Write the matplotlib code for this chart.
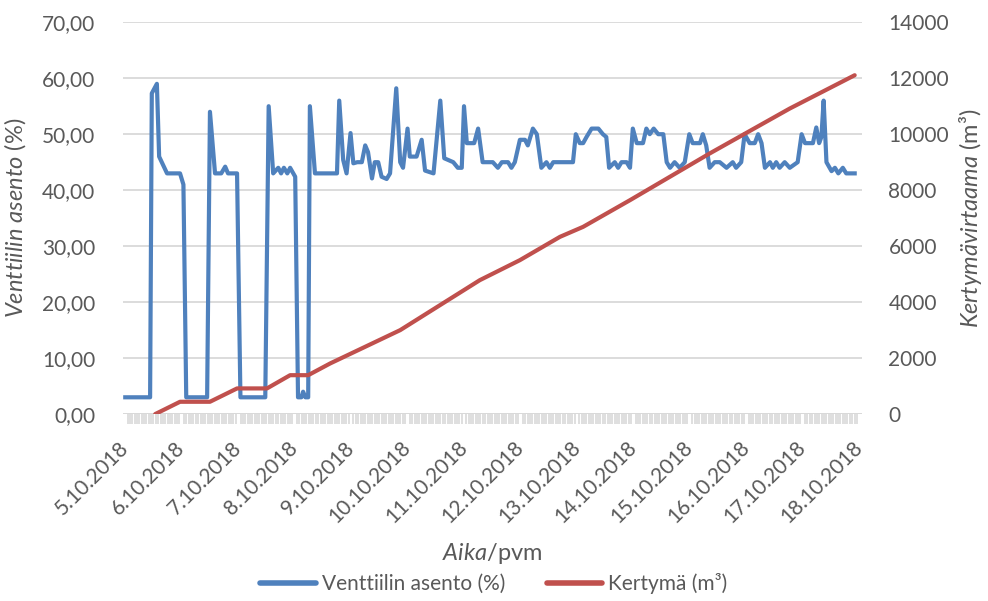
import matplotlib
matplotlib.use("Agg")
import matplotlib.pyplot as plt
from matplotlib.lines import Line2D

# x positions are days counted from 5.10.2018 00:00
date_labels = ["5.10.2018", "6.10.2018", "7.10.2018", "8.10.2018", "9.10.2018",
               "10.10.2018", "11.10.2018", "12.10.2018", "13.10.2018", "14.10.2018",
               "15.10.2018", "16.10.2018", "17.10.2018", "18.10.2018"]

valve_days = [0.00, 0.44, 0.47, 0.56, 0.60, 0.74, 0.97, 1.03, 1.08, 1.45,
              1.50, 1.59, 1.70, 1.77, 1.82, 1.98, 2.04, 2.48, 2.54, 2.62,
              2.71, 2.76, 2.81, 2.87, 2.92, 3.01, 3.06, 3.12, 3.15, 3.19,
              3.24, 3.27, 3.36, 3.75, 3.79, 3.86, 3.92, 3.99, 4.04, 4.11,
              4.19, 4.25, 4.30, 4.37, 4.42, 4.48, 4.54, 4.63, 4.69, 4.80,
              4.87, 4.92, 5.00, 5.04, 5.16, 5.25, 5.31, 5.46, 5.58, 5.65,
              5.81, 5.89, 5.96, 6.00, 6.05, 6.18, 6.25, 6.33, 6.51, 6.60,
              6.67, 6.78, 6.84, 6.90, 6.99, 7.08, 7.13, 7.22, 7.29, 7.37,
              7.46, 7.52, 7.58, 7.70, 7.93, 7.98, 8.05, 8.11, 8.17, 8.26,
              8.38, 8.46, 8.52, 8.57, 8.67, 8.73, 8.79, 8.88, 8.94, 8.99,
              9.06, 9.17, 9.23, 9.29, 9.36, 9.44, 9.53, 9.59, 9.65, 9.73,
              9.82, 9.91, 9.99, 10.05, 10.18, 10.23, 10.29, 10.35, 10.44, 10.53,
              10.65, 10.76, 10.82, 10.91, 10.97, 11.06, 11.15, 11.21, 11.27, 11.33,
              11.42, 11.47, 11.53, 11.59, 11.68, 11.77, 11.91, 11.98, 12.04, 12.18,
              12.24, 12.29, 12.33, 12.37, 12.42, 12.51, 12.57, 12.63, 12.71, 12.77,
              12.92]
valve_pos = [3, 3, 57.3, 59, 46, 43, 43, 41, 3, 3,
             54, 43, 43, 44.2, 43, 43, 3, 3, 55, 43,
             44, 43, 44, 43, 44, 42.4, 3, 3, 4, 3,
             3, 55, 43, 43, 56, 45.4, 43, 50.2, 44.8, 45,
             45, 48, 46.8, 42.1, 45, 45, 42.4, 42, 43, 58.2,
             45, 44, 51, 46, 46, 49, 43.5, 43, 56, 45.7,
             45, 44, 44, 55, 48.4, 48.4, 51, 45, 45, 44,
             45, 45, 44, 45, 49, 49, 48, 51, 50, 44,
             45, 44, 45, 45, 45, 50, 48.4, 48.4, 49.5, 51,
             51, 50, 49.5, 44, 45, 44, 45, 45, 44, 51,
             48.4, 48.4, 51, 50, 51, 50, 50, 45, 44, 45,
             44, 45, 50, 48.4, 48.4, 50, 48, 44, 45, 45,
             44, 45, 44, 45, 50, 48.4, 48.4, 50, 48.4, 44,
             45, 44, 45, 44, 45, 44, 45, 50, 48.4, 48.4,
             51.2, 48.4, 49.5, 56, 45, 43.4, 44, 43, 44, 43,
             43]

flow_days = [0.53, 0.97, 1.50, 1.98, 2.51, 2.92, 3.24, 3.63, 4.87, 6.28,
             6.99, 7.70, 8.11, 8.94, 10.35, 11.77, 12.92]
flow_sum = [0, 440, 440, 917, 917, 1390, 1390, 1810, 3000, 4785,
            5500, 6333, 6690, 7643, 9310, 10917, 12107]

BLUE = "#4F81BD"
RED = "#C0504D"
TEXT = "#595959"
GRID = "#D9D9D9"


def main():
    plt.rcParams['font.family'] = ['Lato', 'DejaVu Sans']
    plt.rcParams['mathtext.fontset'] = 'custom'
    plt.rcParams['mathtext.rm'] = 'Lato'
    plt.rcParams['mathtext.it'] = 'Lato:italic'

    fig = plt.figure(figsize=(9.88, 6.01), dpi=100)
    ax = fig.add_axes([0.1245, 0.311, 0.748, 0.652])
    ax2 = ax.twinx()

    # left axis: valve position
    ax.plot(valve_days, valve_pos, color=BLUE, lw=3, solid_joinstyle='round', zorder=3)
    ax.set_ylim(0, 70)
    ax.set_yticks(range(0, 71, 10))
    ax.set_yticklabels([f"{v},00" for v in range(0, 71, 10)])
    ax.grid(axis='y', color=GRID, lw=1.3)
    ax.set_axisbelow(True)

    # right axis: cumulative flow
    ax2.plot(flow_days, flow_sum, color=RED, lw=3, solid_capstyle='round', zorder=3)
    ax2.set_ylim(0, 14000)
    ax2.set_yticks(range(0, 14001, 2000))

    ax.set_xlim(-0.04, 13.05)
    ax.set_xticks(range(len(date_labels)))
    ax.set_xticklabels(date_labels, rotation=45, ha='right', va='center',
                       rotation_mode='anchor')
    ax.set_xticks([i / 24 for i in range(0, 13 * 24 + 1)], minor=True)
    ax.tick_params(axis='x', which='major', length=0, pad=22, labelsize=15, colors=TEXT)
    ax.tick_params(axis='x', which='minor', length=7, width=1.2, color=GRID)
    ax.tick_params(axis='y', length=0, pad=20, labelsize=15, colors=TEXT)
    ax2.tick_params(axis='y', length=0, pad=19, labelsize=15, colors=TEXT)

    for a in (ax, ax2):
        for s in a.spines.values():
            s.set_visible(False)
    ax.axhline(0, color=GRID, lw=1.3, zorder=1)

    ax.set_ylabel(r"$\mathit{Venttiilin\ asento}$ (%)", fontsize=17, color=TEXT, labelpad=10)
    ax2.set_ylabel(r"$\mathit{Kertymävirtaama}$ (m³)", fontsize=17, color=TEXT, labelpad=6)
    ax.set_xlabel(r"$\mathit{Aika}$/pvm", fontsize=17, color=TEXT, labelpad=10)

    handles = [Line2D([], [], color=BLUE, lw=4, solid_capstyle='round'),
               Line2D([], [], color=RED, lw=4, solid_capstyle='round')]
    fig.legend(handles, ["Venttiilin asento (%)", "Kertymä (m³)"], loc='lower center',
               bbox_to_anchor=(0.5, -0.02), ncol=2, frameon=False, fontsize=15,
               labelcolor=TEXT, handlelength=2.65, handletextpad=0.3, columnspacing=2.0)

    fig.savefig("out.png", dpi=100)


if __name__ == '__main__':
    main()
